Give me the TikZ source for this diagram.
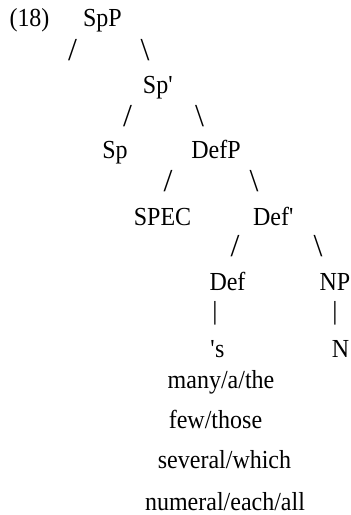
\documentclass[tikz,border=0pt]{standalone}
\usepackage{fontspec}
\setmainfont{Liberation Serif}[FakeStretch=0.923]
\newfontfamily\slashfont{Liberation Serif}
\begin{document}
\begin{tikzpicture}[x=1pt,y=-1pt,
  lab/.style={anchor=base,inner sep=0pt,font=\fontsize{26}{30}\selectfont},
  br/.style={anchor=center,inner sep=0pt,font=\slashfont\fontsize{32}{36}\selectfont},
  bar/.style={anchor=center,inner sep=0pt,font=\slashfont\fontsize{26}{30}\selectfont}]
\useasboundingbox (0,0) rectangle (351,515);
\node[lab] (num) at (29.5,26) {(18)};
\node[lab] (spp) at (102.5,26) {SpP};
\node[br] (b1l) at (72.5,50) {/};
\node[br] (b1r) at (145,50) {\textbackslash};
\node[lab] (spbar) at (158,93) {Sp\textquotesingle};
\node[br] (b2l) at (127.5,116) {/};
\node[br] (b2r) at (199.5,116) {\textbackslash};
\node[lab] (sp) at (115,158) {Sp};
\node[lab] (defp) at (216,158) {DefP};
\node[br] (b3l) at (168,181) {/};
\node[br] (b3r) at (254,181) {\textbackslash};
\node[lab] (spec) at (162.5,225) {SPEC};
\node[lab] (defbar) at (273.5,225) {Def\textquotesingle};
\node[br] (b4l) at (235,246) {/};
\node[br] (b4r) at (318,246) {\textbackslash};
\node[lab] (def) at (227.5,290) {Def};
\node[lab] (np) at (335,290) {NP};
\node[bar] (b5l) at (215,313.5) {|};
\node[bar] (b5r) at (335,313.5) {|};
\node[lab] (s) at (217.5,357) {\textquotesingle s};
\node[lab] (n) at (340.5,357) {N};
\node[lab] (w1) at (221,388) {many/a/the};
\node[lab] (w2) at (215.5,428) {few/those};
\node[lab] (w3) at (224.5,468) {several/which};
\node[lab] (w4) at (225,510) {numeral/each/all};
\end{tikzpicture}
\end{document}
